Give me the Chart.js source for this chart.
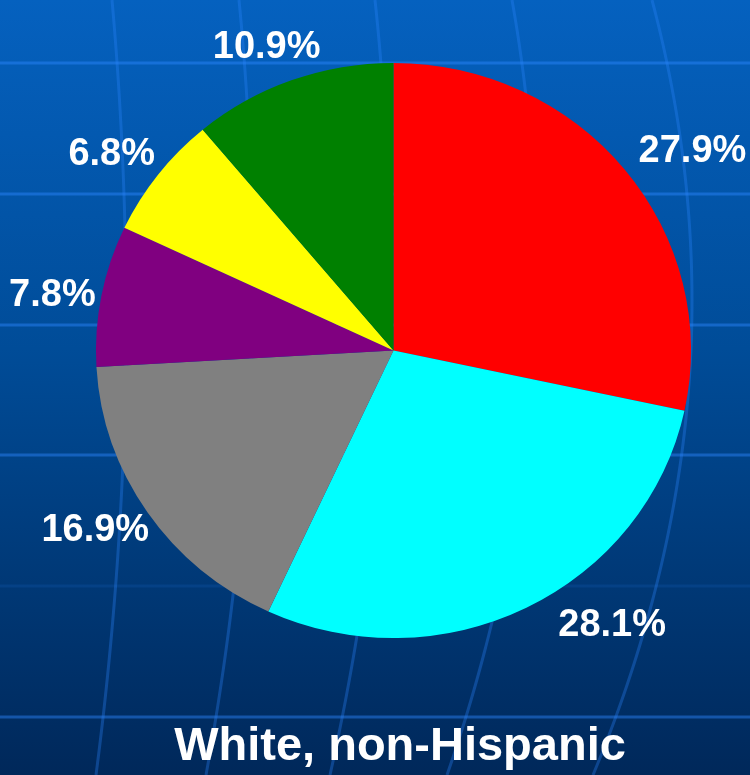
<!DOCTYPE html>
<html>
<head>
<meta charset="utf-8">
<script src="https://cdn.jsdelivr.net/npm/chart.js@4/dist/chart.umd.min.js"></script>
<style>
  html, body { margin: 0; padding: 0; background: #003a7a; }
  #wrap { width: 750px; height: 775px; position: relative; }
  canvas { display: block; }
</style>
</head>
<body>
<div id="wrap"><canvas id="c" width="750" height="775"></canvas></div>
<script>
// ---- data ----
const categories = ["Slice A", "Slice B", "Slice C", "Slice D", "Slice E", "Slice F"];
const values = [27.9, 28.1, 16.9, 7.8, 6.8, 10.9];
const valueLabels = ["27.9%", "28.1%", "16.9%", "7.8%", "6.8%", "10.9%"];
const sliceColors = ["#FF0000", "#00FFFF", "#808080", "#800080", "#FFFF00", "#008000"];
const chartTitle = "White, non-Hispanic";

// ---- pie shape: slightly wider than tall, as on the slide ----
const pieShape = { cx: 393.5, cy: 350.5, sx: 1.019, sy: 0.985 };
function mapPoint(chart, x, y) {
  const a = chart.chartArea;
  const ox = (a.left + a.right) / 2, oy = (a.top + a.bottom) / 2;
  return [pieShape.cx + (x - ox) * pieShape.sx, pieShape.cy + (y - oy) * pieShape.sy];
}

// ---- background (slide-style gradient with globe grid) ----
const backgroundPlugin = {
  id: 'slideBackground',
  beforeDraw(chart) {
    const ctx = chart.ctx;
    const W = chart.width, H = chart.height;
    ctx.save();
    const g = ctx.createLinearGradient(0, 0, 0, H);
    g.addColorStop(0, '#0561BF');
    g.addColorStop(0.45, '#004C98');
    g.addColorStop(1, '#00285A');
    ctx.fillStyle = g;
    ctx.fillRect(0, 0, W, H);
    ctx.strokeStyle = 'rgba(45,135,255,0.45)';
    ctx.lineWidth = 3;
    [63, 194, 325, 455, 717].forEach(y => {
      ctx.beginPath(); ctx.moveTo(0, y); ctx.lineTo(W, y); ctx.stroke();
    });
    ctx.strokeStyle = 'rgba(45,135,255,0.12)';
    ctx.beginPath(); ctx.moveTo(0, 586); ctx.lineTo(W, 586); ctx.stroke();
    // curved meridians: x at y=0, y=300, y=775
    const mer = [[112,126,96],[239,252,206],[375,388,330],[512,535,447],[652,692,593]];
    ctx.strokeStyle = 'rgba(45,135,255,0.32)';
    ctx.lineWidth = 3;
    mer.forEach(([a,b,c]) => {
      const ys = [0, 300, 775], xs = [a, b, c];
      ctx.beginPath();
      for (let y = 0; y <= H; y += 5) {
        let x = 0;
        for (let i = 0; i < 3; i++) {
          let t = xs[i];
          for (let j = 0; j < 3; j++) if (j !== i) t *= (y - ys[j]) / (ys[i] - ys[j]);
          x += t;
        }
        if (y === 0) ctx.moveTo(x, y); else ctx.lineTo(x, y);
      }
      ctx.stroke();
    });
    ctx.restore();
  },
  beforeDatasetsDraw(chart) {
    const ctx = chart.ctx;
    const a = chart.chartArea;
    const ox = (a.left + a.right) / 2, oy = (a.top + a.bottom) / 2;
    ctx.save();
    ctx.translate(pieShape.cx, pieShape.cy);
    ctx.scale(pieShape.sx, pieShape.sy);
    ctx.translate(-ox, -oy);
  },
  afterDatasetsDraw(chart) {
    chart.ctx.restore();
  }
};

// ---- outside labels ----
const outsideLabels = {
  id: 'outsideLabels',
  afterDatasetsDraw(chart, args, opts) {
    const ctx = chart.ctx;
    const meta = chart.getDatasetMeta(0);
    ctx.save();
    ctx.font = opts.font;
    ctx.fillStyle = opts.color;
    ctx.textAlign = 'center';
    ctx.textBaseline = 'middle';
    meta.data.forEach((arc, i) => {
      const p = arc.getProps(['x', 'y', 'startAngle', 'endAngle', 'outerRadius'], true);
      const mid = (p.startAngle + p.endAngle) / 2;
      const r = p.outerRadius + opts.offset;
      const n = opts.nudge[i] || [0, 0];
      const [x, y] = mapPoint(chart, p.x + Math.cos(mid) * r, p.y + Math.sin(mid) * r);
      ctx.fillText(valueLabels[i], x + n[0], y + n[1]);
    });
    ctx.restore();
  }
};

new Chart(document.getElementById('c'), {
  type: 'pie',
  data: {
    labels: categories,
    datasets: [{
      data: values,
      backgroundColor: sliceColors,
      borderWidth: 0,
      hoverOffset: 0
    }]
  },
  options: {
    responsive: false,
    devicePixelRatio: 1,
    animation: false,
    events: [],
    layout: { padding: { left: 108, right: 58, top: 60, bottom: 0 } },
    plugins: {
      legend: { display: false },
      tooltip: { enabled: false },
      title: {
        display: true,
        text: chartTitle,
        position: 'bottom',
        color: '#FFFFFF',
        font: { family: '"Liberation Sans", Arial, sans-serif', size: 47, weight: 'bold', lineHeight: 1.2 },
        padding: { top: 74.6, bottom: 0 }
      },
      outsideLabels: {
        font: 'bold 38px "Liberation Sans", Arial, sans-serif',
        color: '#FFFFFF',
        offset: 50,
        nudge: [[28, 13], [63, -26], [-10, -9], [1, 9], [-6, 10], [-8, 14]]
      }
    }
  },
  plugins: [backgroundPlugin, outsideLabels]
});
</script>
</body>
</html>
